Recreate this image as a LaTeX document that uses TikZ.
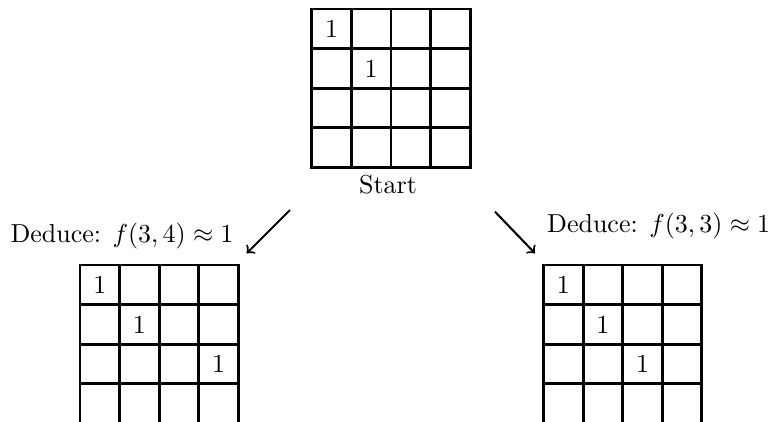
\documentclass[tikz,border=0pt]{standalone}
\begin{document}
\begin{tikzpicture}[x=0.385pt,y=-0.385pt,
  gridline/.style={line width=1.1pt,line cap=rect},
  arr/.style={->,line width=0.8pt},
  lbl/.style={inner sep=0pt,font=\normalsize}]
\useasboundingbox (0,0) rectangle (771,421);
\def\cs{39.6}
% top grid
\foreach \i in {0,...,4} {
  \draw[gridline] (311.8+\i*\cs,9) -- ++(0,4*\cs);
  \draw[gridline] (311.8,9+\i*\cs) -- ++(4*\cs,0);
}
\node (t00) at (311.8+0.5*\cs,9+0.5*\cs) {1};
\node (t11) at (311.8+1.5*\cs,9+1.5*\cs) {1};
\node[lbl,anchor=base] (start) at (388,193.3) {Start};
% left grid
\foreach \i in {0,...,4} {
  \draw[gridline] (80+\i*\cs,265) -- ++(0,4*\cs+4);
  \draw[gridline] (80,265+\i*\cs) -- ++(4*\cs,0);
}
\node (l00) at (80+0.5*\cs,265+0.5*\cs) {1};
\node (l11) at (80+1.5*\cs,265+1.5*\cs) {1};
\node (l32) at (80+3.5*\cs,265+2.5*\cs) {1};
\node[lbl,anchor=base west] (ltext) at (10,242.7) {Deduce: $f(3,4)\approx 1$};
% right grid
\foreach \i in {0,...,4} {
  \draw[gridline] (543.5+\i*\cs,265) -- ++(0,4*\cs+4);
  \draw[gridline] (543.5,265+\i*\cs) -- ++(4*\cs,0);
}
\node (r00) at (543.5+0.5*\cs,265+0.5*\cs) {1};
\node (r11) at (543.5+1.5*\cs,265+1.5*\cs) {1};
\node (r22) at (543.5+2.5*\cs,265+2.5*\cs) {1};
\node[lbl,anchor=base west] (rtext) at (546.7,232.3) {Deduce: $f(3,3)\approx 1$};
% arrows
\coordinate (la) at (290,210);
\coordinate (lb) at (246.7,253.3);
\coordinate (ra) at (495,211.7);
\coordinate (rb) at (535,253.3);
\draw[arr] (la) -- (lb);
\draw[arr] (ra) -- (rb);
\end{tikzpicture}
\end{document}
